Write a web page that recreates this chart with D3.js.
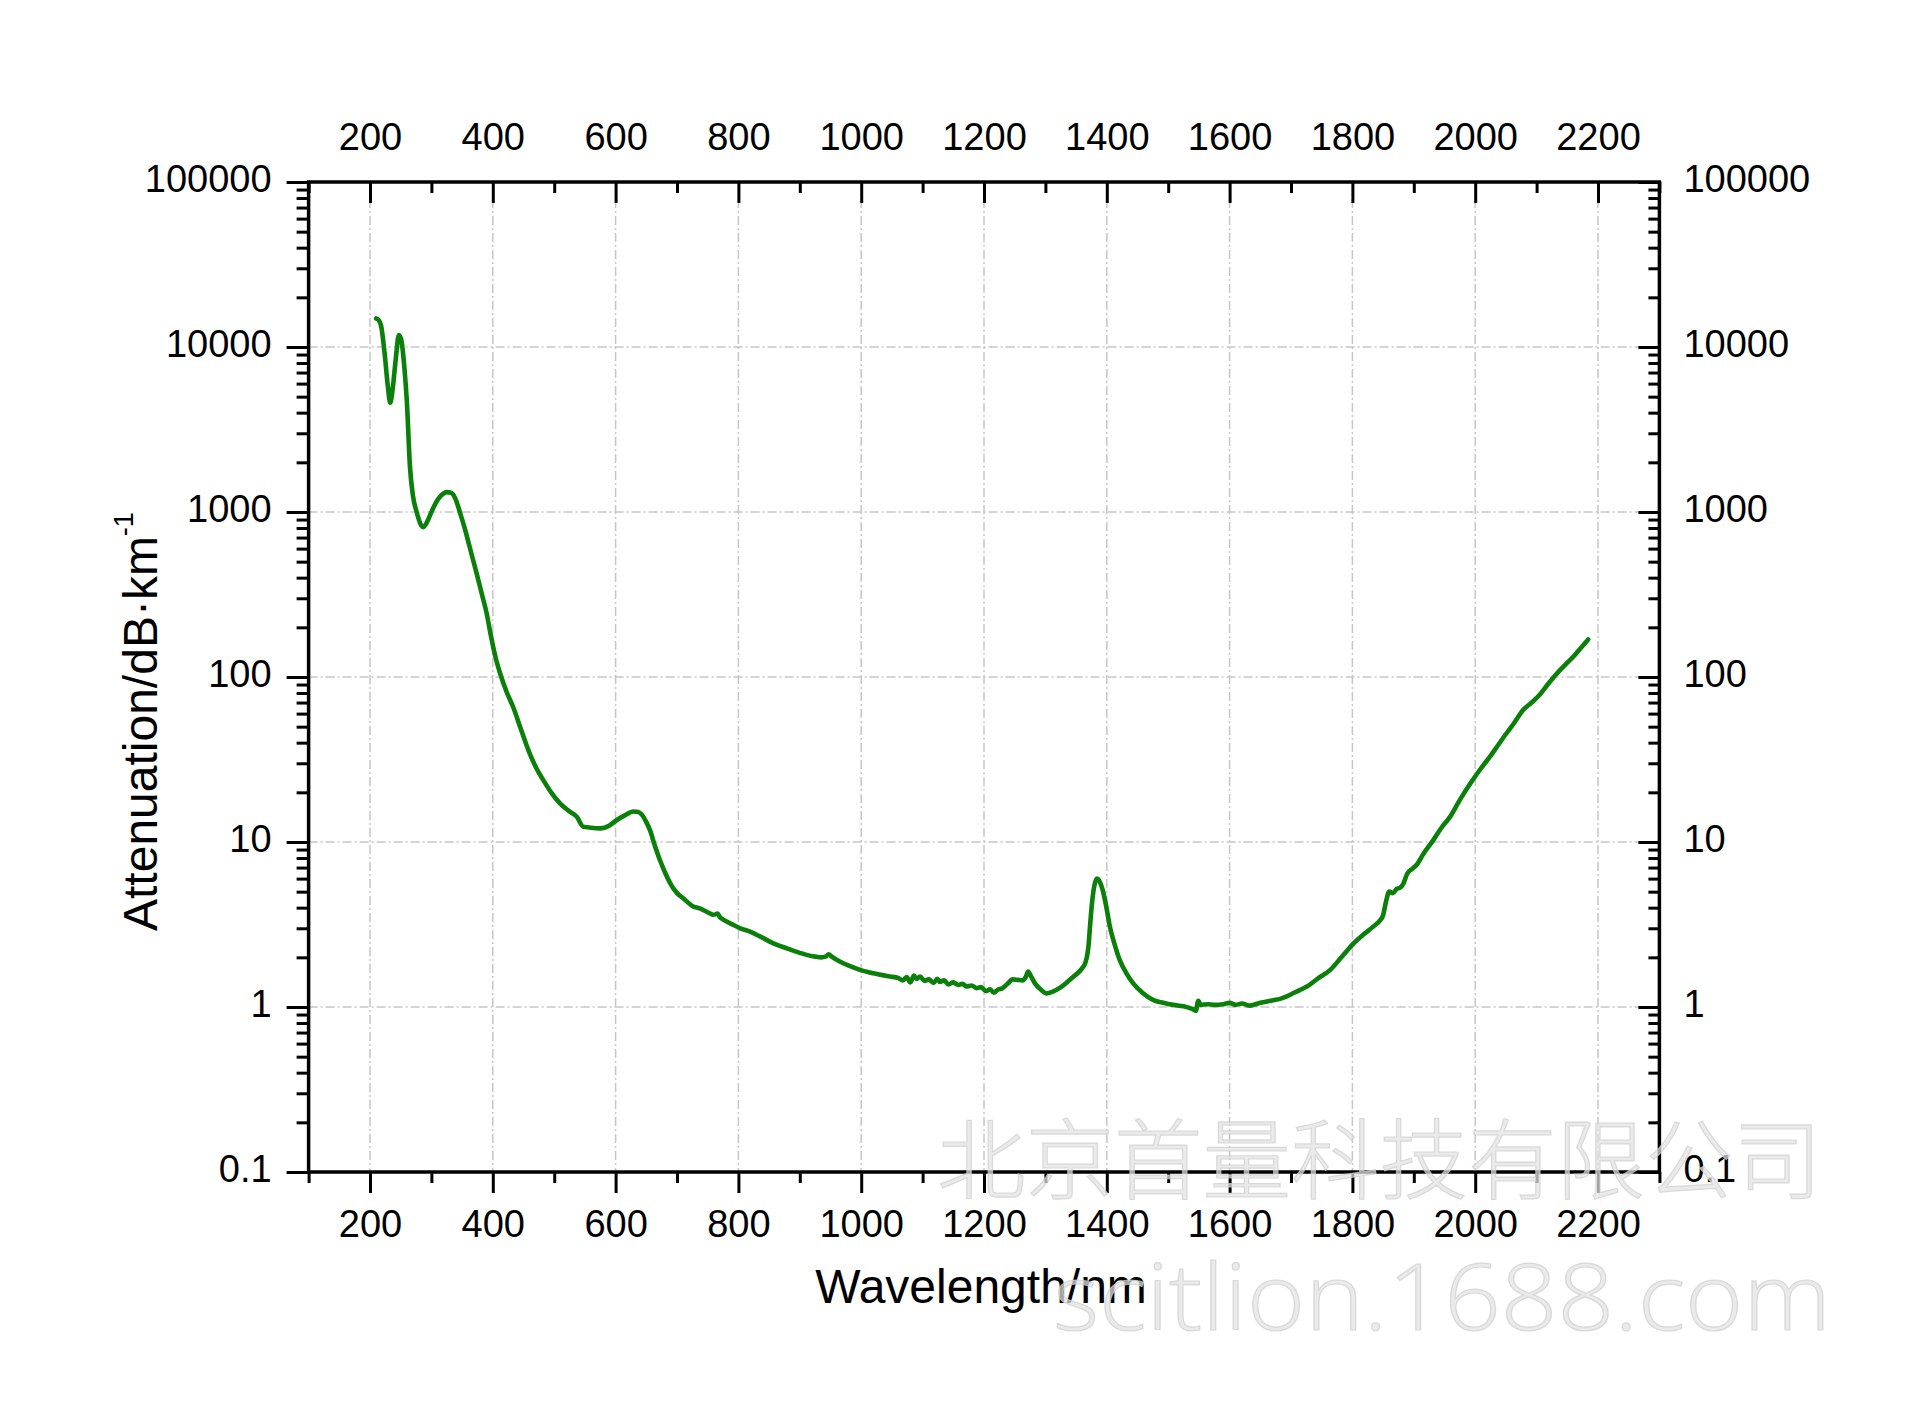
<!DOCTYPE html>
<html>
<head>
<meta charset="utf-8">
<script src="https://cdn.jsdelivr.net/npm/d3@7"></script>
<style>
  html, body { margin: 0; padding: 0; background: #ffffff; }
  svg { display: block; }
</style>
</head>
<body>
<script>
// ---------------- DATA ----------------
const wavelength = [
  210, 214, 218, 224, 229, 233, 237, 242, 247, 251, 256, 260, 265, 270, 276, 282, 287, 293, 300, 308,
  316, 325, 333, 340, 347, 355, 362, 368, 374, 382, 390, 396, 401, 406, 412, 422, 433, 446, 460, 471,
  482, 495, 509, 523, 537, 547, 560, 575, 590, 602, 615, 629, 637, 643, 650, 656, 664, 672, 680, 689,
  700, 710, 725, 737, 750, 760, 766, 770, 776, 792, 803, 819, 835, 857, 880, 900, 911, 925, 935, 942,
  947, 952, 966, 980, 998, 1020, 1047, 1060, 1068, 1074, 1080, 1086, 1090, 1096, 1103, 1110, 1118, 1124, 1128, 1135,
  1142, 1150, 1158, 1165, 1172, 1180, 1188, 1195, 1203, 1210, 1216, 1222, 1230, 1238, 1247, 1255, 1262, 1268, 1272, 1276,
  1283, 1292, 1302, 1312, 1324, 1335, 1346, 1354, 1360, 1365, 1370, 1373, 1376, 1380, 1384, 1388, 1394, 1400, 1405, 1412,
  1421, 1432, 1443, 1458, 1476, 1492, 1508, 1525, 1540, 1545, 1549, 1553, 1565, 1575, 1590, 1600, 1610, 1620, 1633, 1650,
  1671, 1682, 1693, 1705, 1715, 1726, 1745, 1764, 1782, 1802, 1818, 1834, 1845, 1850, 1855, 1860, 1866, 1872, 1878, 1883,
  1889, 1898, 1905, 1915, 1932, 1945, 1959, 1975, 1992, 2008, 2024, 2038, 2051, 2064, 2078, 2092, 2105, 2120, 2133, 2147,
  2160, 2172, 2184
];
const attenuation = [
  14900, 14600, 13500, 9000, 5800, 4600, 5600, 8500, 11800, 11000, 7500, 4700, 1900, 1250, 1000, 850, 810, 870, 1000, 1150,
  1260, 1320, 1300, 1180, 980, 780, 620, 510, 420, 320, 243, 185, 150, 125, 105, 82, 66, 48, 34.4, 28,
  23.8, 20, 17.2, 15.5, 14.2, 12.4, 12.2, 12.1, 12.6, 13.6, 14.5, 15.3, 15.2, 14.6, 13.2, 11.8, 9.5, 7.8, 6.6, 5.62,
  4.9, 4.56, 4.1, 3.96, 3.75, 3.62, 3.68, 3.5, 3.37, 3.14, 3.0, 2.86, 2.68, 2.43, 2.26, 2.13, 2.07, 2.02, 2.0, 2.02,
  2.09, 2.02, 1.88, 1.78, 1.68, 1.6, 1.53, 1.5, 1.45, 1.52, 1.41, 1.55, 1.48, 1.53, 1.44, 1.47, 1.4, 1.48, 1.42, 1.45,
  1.37, 1.41, 1.36, 1.38, 1.33, 1.35, 1.3, 1.32, 1.25, 1.28, 1.22, 1.27, 1.3, 1.38, 1.47, 1.46, 1.45, 1.52, 1.64, 1.55,
  1.39, 1.28, 1.21, 1.24, 1.31, 1.41, 1.53, 1.62, 1.72, 1.85, 2.3, 3.2, 4.3, 5.5, 6.0, 5.8, 5.0, 3.9, 3.07, 2.45,
  1.93, 1.6, 1.39, 1.22, 1.1, 1.06, 1.03, 1.01, 0.97, 0.95, 1.09, 1.03, 1.04, 1.03, 1.04, 1.06, 1.03, 1.05, 1.02, 1.06,
  1.1, 1.12, 1.16, 1.22, 1.27, 1.33, 1.5, 1.68, 2.0, 2.43, 2.75, 3.07, 3.35, 3.6, 4.4, 5.0, 4.9, 5.2, 5.3, 5.6,
  6.4, 6.9, 7.3, 8.4, 10.3, 12.2, 14.2, 18, 22.6, 27.5, 32.9, 39, 45.6, 53, 63, 70, 78, 92, 105, 119,
  133, 150, 169
];
const xMajorTicks = [200, 400, 600, 800, 1000, 1200, 1400, 1600, 1800, 2000, 2200];
const xMinorTicks = [100, 300, 500, 700, 900, 1100, 1300, 1500, 1700, 1900, 2100, 2300];
const yMajorTicks = [0.1, 1, 10, 100, 1000, 10000, 100000];
const yTickLabels = ["0.1", "1", "10", "100", "1000", "10000", "100000"];
const xTitle = "Wavelength/nm";
const yTitle = "Attenuation/dB·km";
const yTitleSup = "-1";
const watermark1 = "北京首量科技有限公司";
const watermark2 = "scitlion.1688.com";

// ---------------- CHART ----------------
const W = 1920, H = 1415;
const L = 308.6, R = 1659.4, T = 182, B = 1172;
const FONT = "'Liberation Sans', Arial, Helvetica, sans-serif";

const svg = d3.select("body").append("svg").attr("width", W).attr("height", H);

const x = d3.scaleLinear().domain([100, 2300]).range([L, R]);
const y = d3.scaleLog().domain([0.1, 100000]).range([B, T]);

// minor y ticks 2..9 of every decade
const yMinorTicks = [];
for (let e = -1; e < 5; e++) for (let m = 2; m <= 9; m++) yMinorTicks.push(m * Math.pow(10, e));

// grid
const grid = svg.append("g").attr("stroke", "#c6c6c6").attr("stroke-width", 1.5)
  .attr("stroke-dasharray", "9,3,2,3");
grid.selectAll("line.v").data(xMajorTicks).join("line").attr("class", "v")
  .attr("x1", d => x(d)).attr("x2", d => x(d)).attr("y1", T).attr("y2", B);
grid.selectAll("line.h").data(yMajorTicks.slice(1, -1)).join("line").attr("class", "h")
  .attr("y1", d => y(d)).attr("y2", d => y(d)).attr("x1", L).attr("x2", R);

// data line
const pts = wavelength.map((w, i) => [w, attenuation[i]]);
svg.append("path").datum(pts)
  .attr("fill", "none").attr("stroke", "#0a800a").attr("stroke-width", 4.6)
  .attr("stroke-linejoin", "round").attr("stroke-linecap", "round")
  .attr("d", d3.line().x(d => x(d[0])).y(d => y(d[1])).curve(d3.curveMonotoneX));

// axes helper
function styleAxis(g) {
  g.select(".domain").remove();
  g.selectAll(".tick line").attr("stroke", "#000").attr("stroke-width", 3);
  g.selectAll("text").attr("fill", "#000").attr("font-size", 38).attr("font-family", FONT);
  g.attr("font-family", FONT).attr("font-size", 38);
}
const fmtX = d => String(d);
const fmtY = d => yTickLabels[yMajorTicks.indexOf(d)];

// bottom
svg.append("g").attr("transform", `translate(0,${B})`)
  .call(d3.axisBottom(x).tickValues(xMajorTicks).tickSize(21).tickPadding(17).tickFormat(fmtX)).call(styleAxis);
svg.append("g").attr("transform", `translate(0,${B})`)
  .call(d3.axisBottom(x).tickValues(xMinorTicks).tickSize(11).tickFormat("")).call(styleAxis);
// top
svg.append("g").attr("transform", `translate(0,${T})`)
  .call(d3.axisTop(x).tickValues(xMajorTicks).tickSize(-21).tickPadding(32).tickFormat(fmtX)).call(styleAxis);
svg.append("g").attr("transform", `translate(0,${T})`)
  .call(d3.axisTop(x).tickValues(xMinorTicks).tickSize(-11).tickFormat("")).call(styleAxis);
// left
svg.append("g").attr("transform", `translate(${L},0)`)
  .call(d3.axisLeft(y).tickValues(yMajorTicks).tickSize(22).tickPadding(15).tickFormat(fmtY)).call(styleAxis)
  .selectAll("text").attr("dy", "0.25em");
svg.append("g").attr("transform", `translate(${L},0)`)
  .call(d3.axisLeft(y).tickValues(yMinorTicks).tickSize(12).tickFormat("")).call(styleAxis);
// right
svg.append("g").attr("transform", `translate(${R},0)`)
  .call(d3.axisRight(y).tickValues(yMajorTicks).tickSize(-21).tickPadding(24).tickFormat(fmtY)).call(styleAxis)
  .selectAll("text").attr("dy", "0.25em");
svg.append("g").attr("transform", `translate(${R},0)`)
  .call(d3.axisRight(y).tickValues(yMinorTicks).tickSize(-11).tickFormat("")).call(styleAxis);

// frame
svg.append("rect").attr("x", L).attr("y", T).attr("width", R - L).attr("height", B - T)
  .attr("fill", "none").attr("stroke", "#000").attr("stroke-width", 3.5);

// titles
svg.append("text").attr("x", (L + R) / 2 - 3).attr("y", 1303)
  .attr("text-anchor", "middle").attr("font-family", FONT).attr("font-size", 48).attr("fill", "#000")
  .text(xTitle);
const yt = svg.append("text").attr("transform", "translate(157,931) rotate(-90)")
  .attr("text-anchor", "start").attr("font-family", FONT).attr("font-size", 48).attr("fill", "#000");
yt.append("tspan").text(yTitle);
yt.append("tspan").attr("font-size", 27).attr("dy", -24).text(yTitleSup);

// watermark
const wm = svg.append("g").attr("fill", "#e2e2e2").attr("fill-opacity", 0.72)
  .attr("stroke", "#cdcdcd").attr("stroke-opacity", 0.7).attr("stroke-width", 1.2);
wm.append("text").attr("x", 937).attr("y", 1192)
  .attr("font-family", "'Noto Sans CJK SC', sans-serif").attr("font-weight", 300).attr("font-size", 88)
  .attr("textLength", 885).attr("lengthAdjust", "spacingAndGlyphs").text(watermark1);
wm.append("text").attr("x", 1053).attr("y", 1330)
  .attr("font-family", "'Open Sans', sans-serif").attr("font-weight", 300).attr("font-size", 93)
  .attr("textLength", 778).attr("lengthAdjust", "spacingAndGlyphs").text(watermark2);
</script>
</body>
</html>
